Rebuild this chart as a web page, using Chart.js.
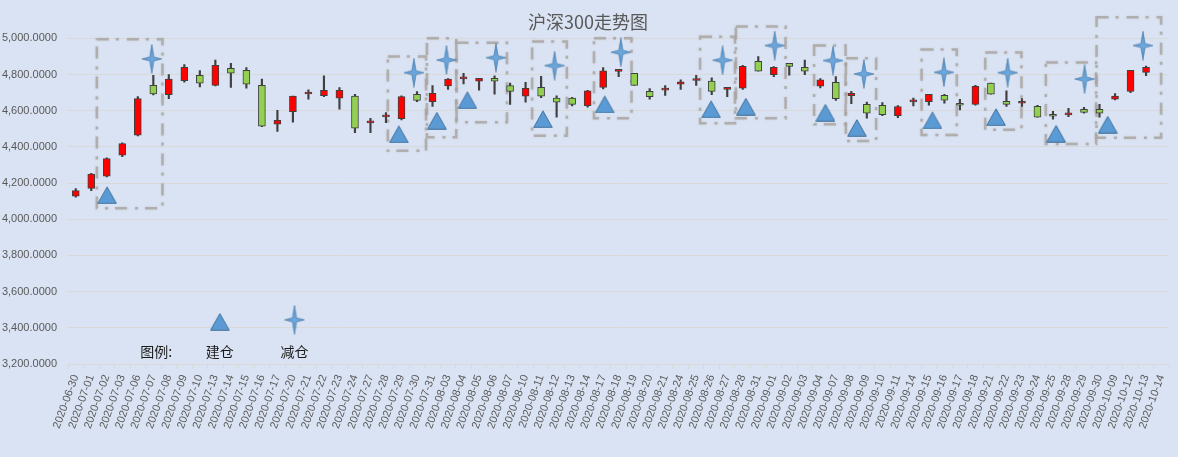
<!DOCTYPE html>
<html>
<head>
<meta charset="utf-8" />
<title>沪深300走势图</title>
<script src="https://cdn.jsdelivr.net/npm/chart.js@4.4.1/dist/chart.umd.min.js"></script>
<style>
    html, body { margin: 0; padding: 0; background: #dae3f3; }
    #wrap { width: 1178px; height: 457px; }
</style>
</head>
<body>
<div id="wrap"><canvas id="kline"></canvas></div>
<script>
    // trading days (10-14 has no candle in the picture)
    const dates = [
        '2020-06-30', '2020-07-01', '2020-07-02', '2020-07-03', '2020-07-06', '2020-07-07', '2020-07-08', '2020-07-09',
        '2020-07-10', '2020-07-13', '2020-07-14', '2020-07-15', '2020-07-16', '2020-07-17', '2020-07-20', '2020-07-21',
        '2020-07-22', '2020-07-23', '2020-07-24', '2020-07-27', '2020-07-28', '2020-07-29', '2020-07-30', '2020-07-31',
        '2020-08-03', '2020-08-04', '2020-08-05', '2020-08-06', '2020-08-07', '2020-08-10', '2020-08-11', '2020-08-12',
        '2020-08-13', '2020-08-14', '2020-08-17', '2020-08-18', '2020-08-19', '2020-08-20', '2020-08-21', '2020-08-24',
        '2020-08-25', '2020-08-26', '2020-08-27', '2020-08-28', '2020-08-31', '2020-09-01', '2020-09-02', '2020-09-03',
        '2020-09-04', '2020-09-07', '2020-09-08', '2020-09-09', '2020-09-10', '2020-09-11', '2020-09-14', '2020-09-15',
        '2020-09-16', '2020-09-17', '2020-09-18', '2020-09-21', '2020-09-22', '2020-09-23', '2020-09-24', '2020-09-25',
        '2020-09-28', '2020-09-29', '2020-09-30', '2020-10-09', '2020-10-12', '2020-10-13', '2020-10-14'
    ];
    const opens = [
        4127, 4171, 4238, 4354, 4464, 4740, 4689, 4766, 4796, 4740, 4834, 4823, 4740, 4525, 4595, 4692,
        4683, 4669, 4680, 4533, 4566, 4556, 4691, 4650, 4737, 4776, 4763, 4779, 4739, 4680, 4729, 4669,
        4669, 4628, 4728, 4817, 4807, 4707, 4714, 4746, 4767, 4763, 4718, 4724, 4873, 4799, 4862, 4840,
        4735, 4757, 4683, 4635, 4630, 4573, 4649, 4650, 4685, 4641, 4635, 4752, 4652, 4641, 4624, 4580,
        4577, 4608, 4608, 4663, 4707, 4812, null
    ];
    const highs = [
        4169, 4254, 4339, 4422, 4678, 4796, 4799, 4855, 4822, 4879, 4862, 4838, 4774, 4602, 4680, 4715,
        4792, 4728, 4691, 4558, 4589, 4682, 4705, 4739, 4777, 4807, 4779, 4792, 4752, 4757, 4790, 4682,
        4674, 4713, 4838, 4825, 4807, 4722, 4739, 4770, 4796, 4781, 4729, 4851, 4899, 4844, 4862, 4879,
        4777, 4788, 4707, 4647, 4645, 4628, 4669, 4691, 4691, 4663, 4740, 4752, 4709, 4667, 4630, 4597,
        4613, 4619, 4635, 4694, 4823, 4847, null
    ];
    const lows = [
        4122, 4158, 4234, 4346, 4460, 4687, 4667, 4757, 4731, 4737, 4729, 4724, 4512, 4486, 4536, 4663,
        4678, 4608, 4479, 4479, 4534, 4549, 4650, 4623, 4718, 4748, 4713, 4691, 4635, 4647, 4672, 4564,
        4626, 4619, 4720, 4788, 4740, 4663, 4685, 4718, 4740, 4689, 4678, 4718, 4818, 4788, 4796, 4799,
        4726, 4656, 4639, 4558, 4573, 4562, 4626, 4630, 4641, 4604, 4630, 4691, 4623, 4623, 4564, 4553,
        4567, 4586, 4564, 4659, 4700, 4794, null
    ];
    const closes = [
        4158, 4249, 4335, 4418, 4667, 4693, 4774, 4840, 4752, 4851, 4807, 4746, 4514, 4547, 4680, 4694,
        4713, 4713, 4503, 4535, 4568, 4678, 4656, 4696, 4774, 4778, 4779, 4763, 4707, 4724, 4680, 4647,
        4635, 4709, 4820, 4819, 4740, 4678, 4716, 4759, 4769, 4707, 4729, 4845, 4818, 4840, 4845, 4818,
        4770, 4667, 4696, 4586, 4578, 4623, 4651, 4691, 4658, 4630, 4735, 4691, 4635, 4652, 4564, 4569,
        4579, 4591, 4586, 4680, 4823, 4840, null
    ];

    // 建仓 / 减仓 markers: position along the date axis (day index) and level
    const buyAt = [2.02, 20.83, 23.28, 25.25, 30.12, 34.1, 40.96, 43.2, 48.33, 50.36, 55.23, 59.33, 63.2, 66.53];
    const buyLevel = [4133, 4470, 4545, 4658, 4553, 4635, 4608, 4623, 4589, 4505, 4547, 4565, 4473, 4523];
    const sellAt = [4.9, 21.8, 23.9, 27.09, 30.87, 35.14, 41.7, 45.06, 48.82, 50.81, 55.97, 60.08, 65.04, 68.8];
    const sellLevel = [4886, 4810, 4880, 4893, 4849, 4923, 4879, 4960, 4877, 4803, 4812, 4810, 4775, 4960];

    // dashed frames round each trade
    const frameFrom = [1.36, 20.12, 22.64, 24.55, 29.42, 33.41, 40.25, 42.56, 47.6, 49.65, 54.53, 58.63, 62.54, 65.81];
    const frameTo = [5.59, 22.58, 24.53, 27.8, 31.66, 35.83, 42.5, 45.76, 49.63, 51.6, 56.8, 60.97, 65.78, 69.97];
    const frameLow = [4061, 4378, 4453, 4536, 4461, 4558, 4530, 4558, 4525, 4433, 4466, 4494, 4416, 4451];
    const frameHigh = [4995, 4899, 5000, 4976, 4982, 5000, 5009, 5065, 4960, 4890, 4938, 4921, 4866, 5116];

    const yMin = 3200, yMax = 5000, yStep = 200;

    const UP = '#ff0000', DOWN = '#92d050', EDGE = '#404040';
    const LABEL = '#595959';
    const GRID = '#d9d9d9';

    function triangleIcon() {
        const c = document.createElement('canvas');
        c.width = 20; c.height = 18;
        const g = c.getContext('2d');
        g.beginPath();
        g.moveTo(10, 0.8);
        g.lineTo(19.3, 17.3);
        g.lineTo(0.7, 17.3);
        g.closePath();
        g.fillStyle = '#5b9bd5';
        g.fill();
        g.strokeStyle = '#41719c';
        g.lineWidth = 1;
        g.stroke();
        return c;
    }

    function starIcon() {
        const c = document.createElement('canvas');
        c.width = 22; c.height = 30;
        const g = c.getContext('2d');
        const cx = 11, cy = 15, k = 2.1;
        g.beginPath();
        g.moveTo(cx, 0.5);
        g.lineTo(cx + k, cy - k);
        g.lineTo(21, cy);
        g.lineTo(cx + k, cy + k);
        g.lineTo(cx, 29.5);
        g.lineTo(cx - k, cy + k);
        g.lineTo(1, cy);
        g.lineTo(cx - k, cy - k);
        g.closePath();
        const grad = g.createRadialGradient(cx, cy, 0, cx, cy, 14);
        grad.addColorStop(0, '#6fa8dc');
        grad.addColorStop(1, '#4f8fcb');
        g.fillStyle = grad;
        g.fill();
        g.strokeStyle = 'rgba(65,113,156,0.7)';
        g.lineWidth = 0.8;
        g.stroke();
        return c;
    }

    const triImg = triangleIcon();
    const starImg = starIcon();

    const framePlugin = {
        id: 'frames',
        beforeDatasetsDraw(chart) {
            const ctx = chart.ctx;
            const xs = chart.scales.xPos, ys = chart.scales.y;
            ctx.save();
            ctx.strokeStyle = 'rgba(168,163,160,0.75)';
            ctx.shadowColor = 'rgba(168,163,160,0.6)';
            ctx.shadowBlur = 2;
            ctx.lineWidth = 2.5;
            ctx.setLineDash([12, 7, 3, 8]);
            for (let i = 0; i < frameFrom.length; i++) {
                const x1 = xs.getPixelForValue(frameFrom[i]);
                const x2 = xs.getPixelForValue(frameTo[i]);
                const y1 = ys.getPixelForValue(frameHigh[i]);
                const y2 = ys.getPixelForValue(frameLow[i]);
                ctx.strokeRect(x1, y1, x2 - x1, y2 - y1);
            }
            ctx.restore();
        }
    };

    // hand-made key inside the plot, bottom left
    const keyPlugin = {
        id: 'key',
        afterDatasetsDraw(chart) {
            const ctx = chart.ctx;
            const xs = chart.scales.xPos, ys = chart.scales.y;
            const textY = ys.getPixelForValue(3267);
            ctx.save();
            ctx.fillStyle = '#1a1a1a';
            ctx.font = '14px "Noto Sans CJK SC"';
            ctx.textAlign = 'center';
            ctx.textBaseline = 'middle';
            ctx.fillText('图例:', xs.getPixelForValue(5.19), textY);
            let x = xs.getPixelForValue(9.29);
            ctx.drawImage(triImg, x - triImg.width / 2, ys.getPixelForValue(3433) - triImg.height / 2);
            ctx.fillText('建仓', x, textY);
            x = xs.getPixelForValue(14.1);
            ctx.drawImage(starImg, x - starImg.width / 2, ys.getPixelForValue(3444) - starImg.height / 2);
            ctx.fillText('减仓', x, textY);
            ctx.restore();
        }
    };

    const bodyColors = opens.map((o, i) => o === null ? null : (closes[i] >= o ? UP : DOWN));

    new Chart(document.getElementById('kline'), {
        type: 'bar',
        data: {
            labels: dates,
            datasets: [
                {
                    label: 'body',
                    data: opens.map((o, i) => o === null ? null : [o, closes[i]]),
                    backgroundColor: bodyColors,
                    borderColor: EDGE,
                    borderWidth: 1,
                    borderSkipped: false,
                    barThickness: 7,
                    minBarLength: 2,
                    grouped: false,
                    order: 1
                },
                {
                    label: 'wick',
                    data: lows.map((l, i) => l === null ? null : [l, highs[i]]),
                    backgroundColor: EDGE,
                    borderWidth: 0,
                    barThickness: 1.5,
                    grouped: false,
                    order: 2
                },
                {
                    type: 'scatter',
                    label: '建仓',
                    data: buyAt.map((x, i) => ({ x: x, y: buyLevel[i] })),
                    xAxisID: 'xPos',
                    pointStyle: triImg,
                    clip: false,
                    order: 0
                },
                {
                    type: 'scatter',
                    label: '减仓',
                    data: sellAt.map((x, i) => ({ x: x, y: sellLevel[i] })),
                    xAxisID: 'xPos',
                    pointStyle: starImg,
                    clip: false,
                    order: 0
                }
            ]
        },
        options: {
            responsive: true,
            maintainAspectRatio: false,
            animation: false,
            layout: { padding: { left: 0, right: 2, top: 0, bottom: 0 } },
            plugins: {
                legend: { display: false },
                tooltip: { enabled: false },
                title: {
                    display: true,
                    text: '沪深300走势图',
                    color: LABEL,
                    font: { family: '"Noto Sans CJK SC"', size: 18, weight: 'normal' },
                    padding: { top: 11, bottom: 5.7 }
                }
            },
            scales: {
                x: {
                    type: 'category',
                    offset: true,
                    grid: { offset: true, drawOnChartArea: false, drawTicks: true, tickLength: 5, color: GRID },
                    border: { display: true, color: GRID },
                    ticks: {
                        autoSkip: false,
                        maxRotation: 70,
                        minRotation: 70,
                        padding: 4,
                        color: LABEL,
                        font: { family: '"Liberation Sans"', size: 11 }
                    },
                    afterFit(scale) { scale.height = 93; }
                },
                // same span as the category axis, for marks between days
                xPos: {
                    type: 'linear',
                    display: false,
                    offset: false,
                    grid: { offset: false },
                    min: -0.5,
                    max: dates.length - 0.5
                },
                y: {
                    min: yMin,
                    max: yMax,
                    ticks: {
                        stepSize: yStep,
                        padding: 11,
                        color: LABEL,
                        font: { family: '"Liberation Sans"', size: 11 },
                        callback: v => v.toLocaleString('en-US', { minimumFractionDigits: 4, maximumFractionDigits: 4 })
                    },
                    grid: { color: GRID, drawTicks: false },
                    border: { display: false },
                    afterFit(scale) { scale.width = 68; }
                }
            }
        },
        plugins: [framePlugin, keyPlugin]
    });
</script>
</body>
</html>
